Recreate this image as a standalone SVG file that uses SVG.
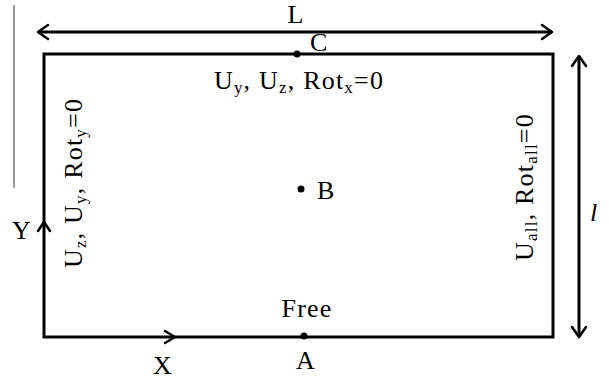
<svg xmlns="http://www.w3.org/2000/svg" width="609" height="380" viewBox="0 0 609 380">
<style>
.t{font-family:'Liberation Serif', 'DejaVu Serif', serif;font-size:26px;fill:#000;letter-spacing:1.2px}
.ln{stroke:#000;stroke-width:3;fill:none}
.ah{stroke:#000;stroke-width:2.5;fill:none;stroke-linecap:round;stroke-linejoin:round}
.sub{font-size:17px}
</style>
<rect width="609" height="380" fill="#fff"/>
<line x1="14" y1="5" x2="14" y2="188" stroke="#555" stroke-width="1.2"/>
<g id="plate">
<rect x="44" y="54" width="509" height="283" class="ln"/>
</g>
<g id="connectors">
<line x1="38" y1="32" x2="552" y2="32" class="ln" stroke-width="2.5"/>
<path d="M48,25 L38,32 L48,39" class="ah"/>
<path d="M542,25 L552,32 L542,39" class="ah"/>
<line x1="579" y1="56" x2="579" y2="337" class="ln" stroke-width="2.5"/>
<path d="M572,66 L579,56 L586,66" class="ah"/>
<path d="M572,327 L579,337 L586,327" class="ah"/>
<path d="M38,231 L44,222 L50,231" class="ah" stroke-width="3"/>
<path d="M165,331 L175,337 L165,343" class="ah" stroke-width="3"/>
</g>
<g id="C"><circle cx="297" cy="54" r="3.5"/><text class="t" x="310" y="51">C</text></g>
<g id="B"><circle cx="301" cy="189" r="3.5"/><text class="t" x="317" y="199">B</text></g>
<g id="A"><circle cx="304" cy="336" r="3.5"/><text class="t" x="296" y="369">A</text></g>
<text class="t" x="296" y="23" text-anchor="middle">L</text>
<text class="t" x="299" y="89" text-anchor="middle">U<tspan class="sub" dy="4">y</tspan><tspan dy="-4">, U</tspan><tspan class="sub" dy="4">z</tspan><tspan dy="-4">, Rot</tspan><tspan class="sub" dy="4">x</tspan><tspan dy="-4">=0</tspan></text>
<text class="t" x="307" y="317" text-anchor="middle">Free</text>
<text class="t" x="153" y="374">X</text>
<text class="t" x="12" y="239">Y</text>
<text class="t" x="590" y="221" font-style="italic">l</text>
<text class="t" transform="translate(82,183) rotate(-90)" text-anchor="middle">U<tspan class="sub" dy="4">z</tspan><tspan dy="-4">, U</tspan><tspan class="sub" dy="4">y</tspan><tspan dy="-4">, Rot</tspan><tspan class="sub" dy="4">y</tspan><tspan dy="-4">=0</tspan></text>
<text class="t" transform="translate(533,187) rotate(-90)" text-anchor="middle">U<tspan class="sub" dy="4">all</tspan><tspan dy="-4">, Rot</tspan><tspan class="sub" dy="4">all</tspan><tspan dy="-4">=0</tspan></text>
</svg>
